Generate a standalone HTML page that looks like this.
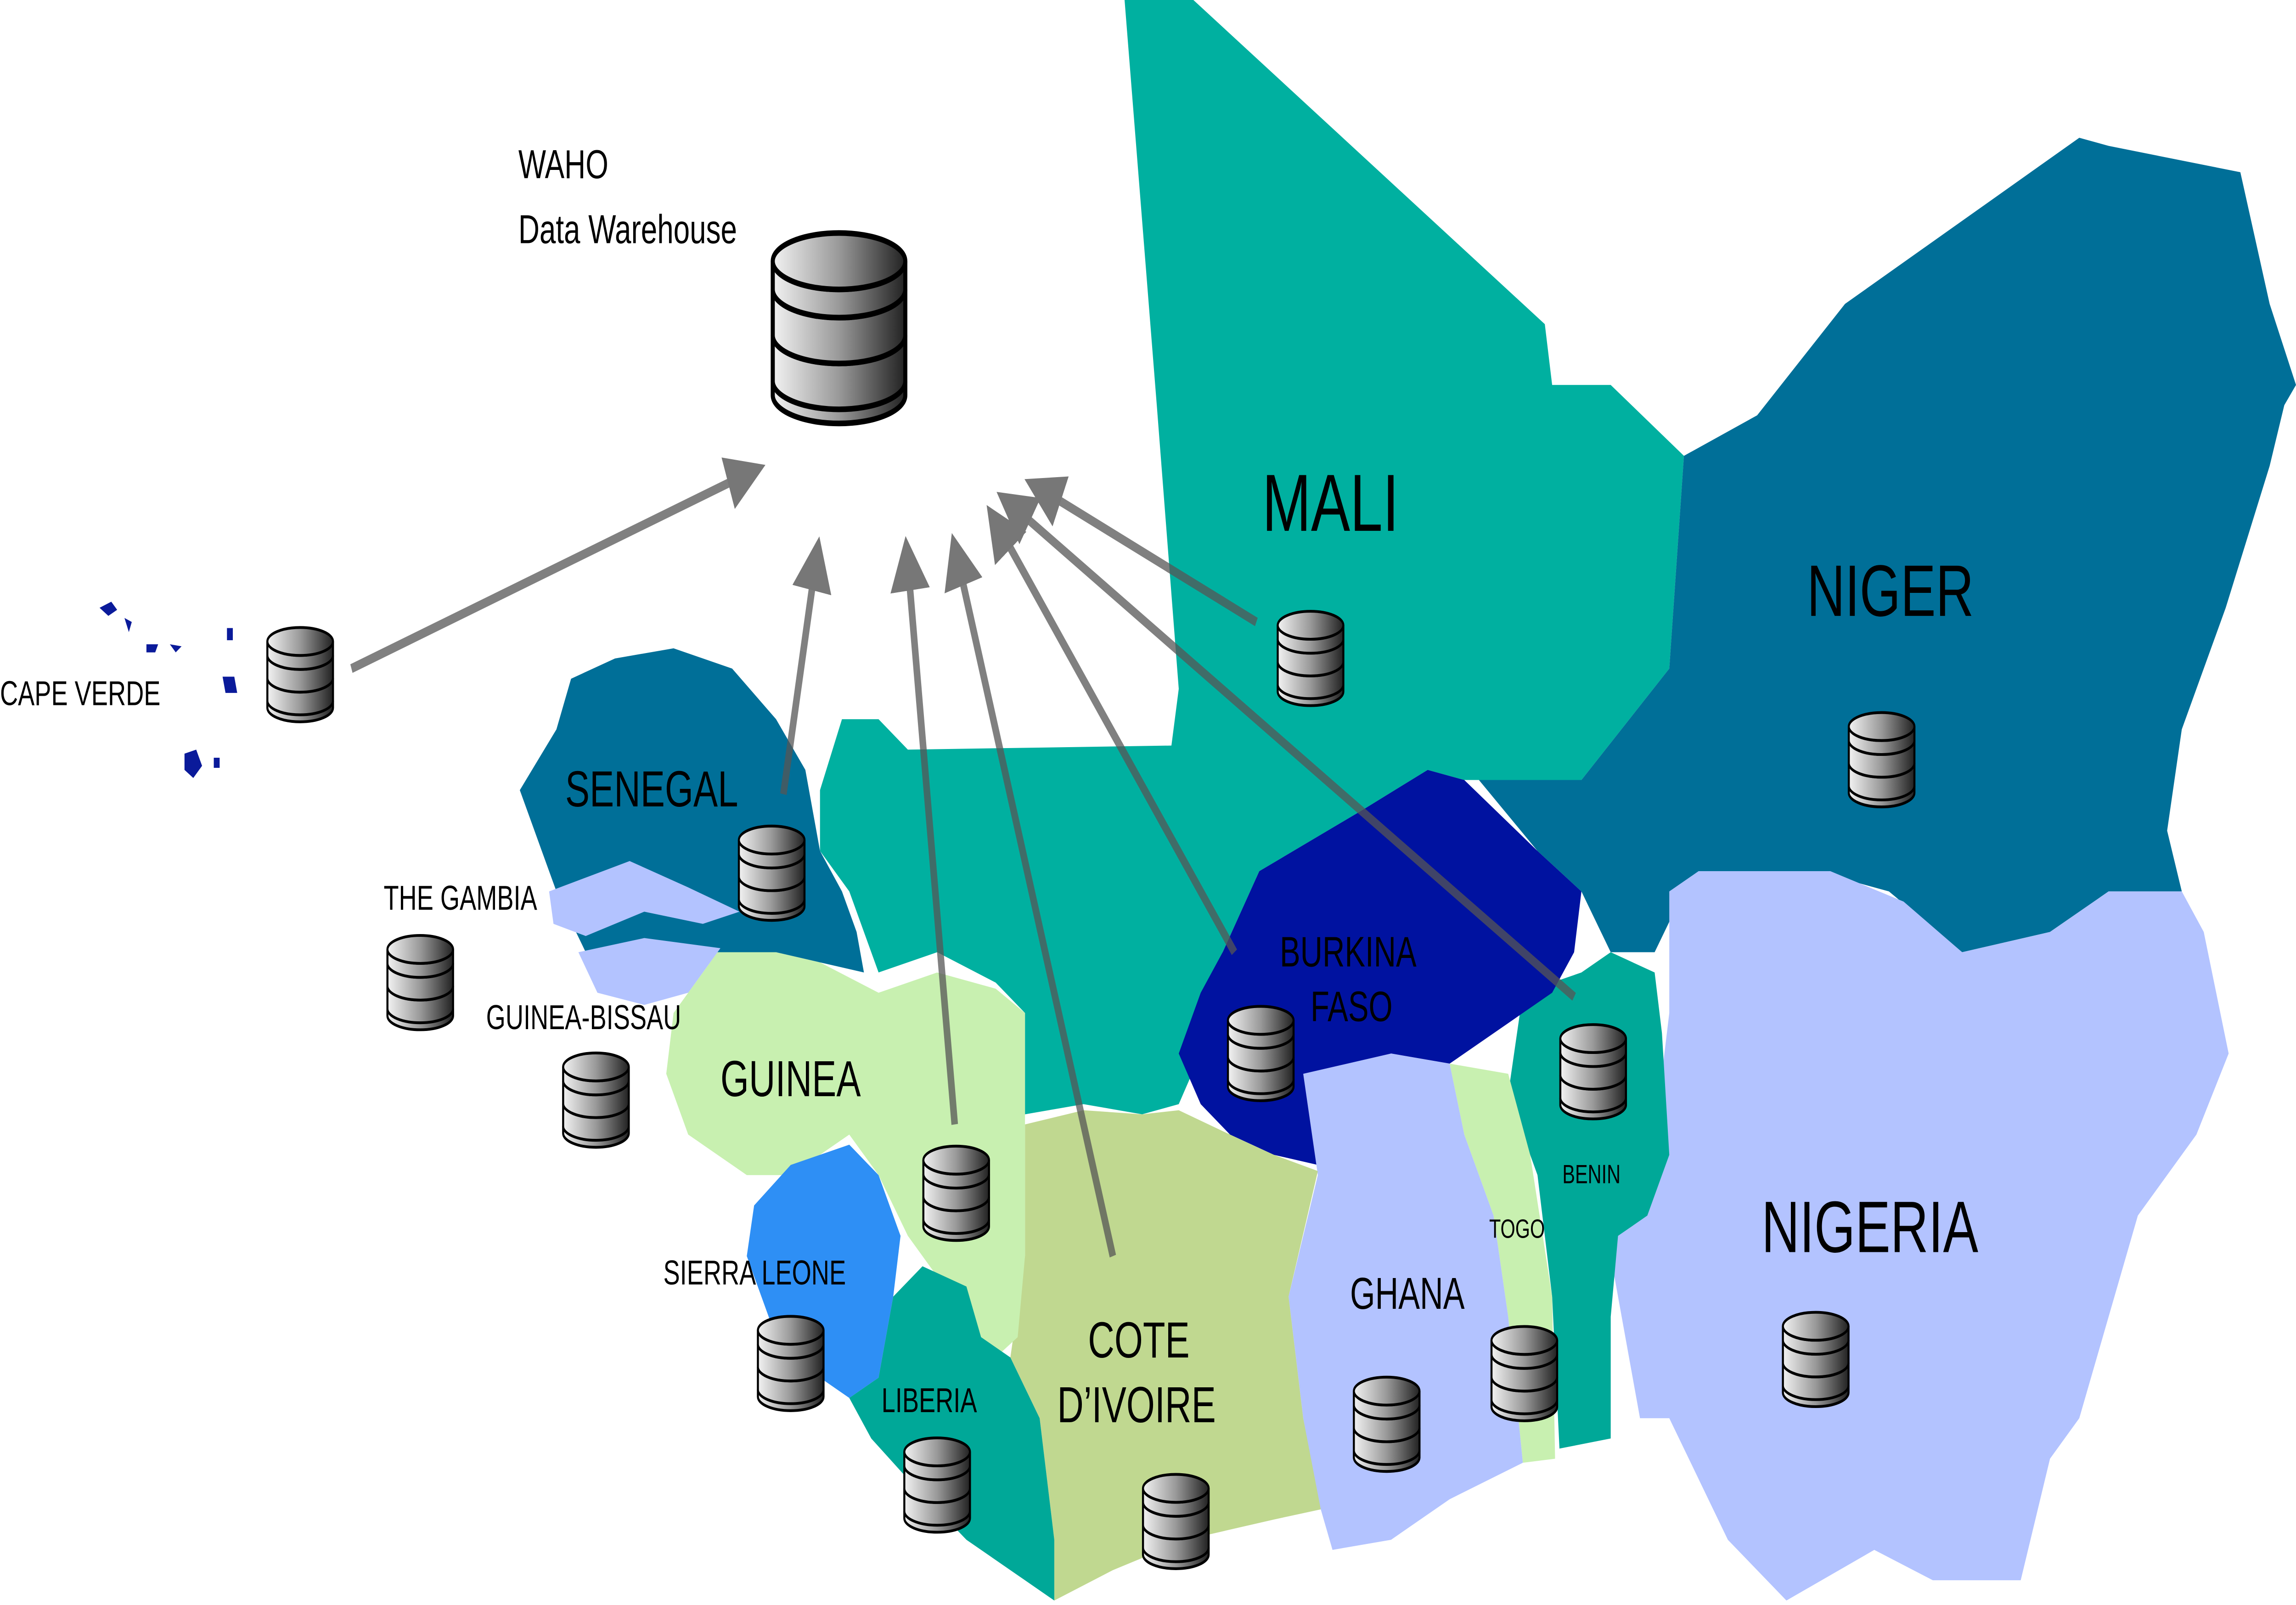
<!DOCTYPE html>
<html><head><meta charset="utf-8"><style>
html,body{margin:0;padding:0;background:#fff;width:100vw;height:100vh;overflow:hidden;}
svg{display:block;position:absolute;left:0;top:0;width:100vw;height:100vh;}
text{font-family:"Liberation Sans",sans-serif;fill:#000;}
</style></head><body>
<svg viewBox="0 0 1568 792.2" preserveAspectRatio="none" xmlns="http://www.w3.org/2000/svg">
<defs>
<linearGradient id="g" x1="0" x2="1" y1="0" y2="0">
<stop offset="0" stop-color="#f2f2f2"/><stop offset="0.5" stop-color="#999"/><stop offset="1" stop-color="#222"/>
</linearGradient>
<symbol id="cyl" viewBox="0 0 54 58">
<g stroke="#000" stroke-width="1.6" fill="url(#g)">
<path d="M1,44 v4 a26,8 0 0 0 52,0 v-4"/>
<path d="M1,44 a26,8 0 0 0 52,0 v-13 a26,8 0 0 1 -52,0 z"/>
<path d="M1,31 a26,8 0 0 0 52,0 v-13 a26,8 0 0 1 -52,0 z"/>
<path d="M1,18 a26,8 0 0 0 52,0 v-8 a26,8 0 0 1 -52,0 z"/>
<ellipse cx="27" cy="10" rx="26" ry="8"/>
</g>
</symbol>
<marker id="ah" markerWidth="6" markerHeight="6" refX="3" refY="3" orient="auto" markerUnits="strokeWidth">
<path d="M0,0 L6,3 L0,6 z" fill="#777"/>
</marker>
</defs>

<path fill="#00B0A0" d="M768,0 L815,0 L1055,160 L1060,190 L1100,190 L1150,225 L1140,330 L1080,385 L1000,385 L975,380 L930,400 L860,430 L835,470 L820,520 L805,545 L780,550 L740,545 L700,550 L700,500 L680,485 L640,470 L600,480 L590,460 L580,440 L560,420 L560,390 L575,355 L600,355 L620,370 L800,368 L805,340 L790,200 Z"/>
<path fill="#006F98" d="M1150,225 L1200,205 L1260,150 L1420,68 L1440,72 L1530,85 L1550,150 L1568,190 L1560,200 L1550,230 L1520,300 L1490,360 L1480,410 L1490,440 L1440,440 L1400,460 L1340,470 L1290,440 L1240,430 L1150,440 L1130,470 L1100,470 L1080,440 L1050,420 L1010,385 L1080,385 L1140,330 Z"/>
<path fill="#B3C3FF" d="M1140,440 L1160,430 L1250,430 L1300,445 L1340,470 L1400,460 L1440,440 L1490,440 L1505,460 L1522,520 L1500,560 L1460,600 L1440,650 L1420,700 L1400,720 L1380,780 L1320,780 L1280,765 L1220,790 L1180,760 L1160,730 L1140,700 L1120,700 L1100,620 L1110,590 L1130,560 L1140,500 Z"/>
<path fill="#00A898" d="M1040,490 L1080,480 L1100,470 L1130,480 L1135,510 L1140,570 L1125,600 L1105,610 L1100,650 L1100,710 L1065,715 L1060,640 L1050,580 L1030,540 Z"/>
<path fill="#C8F0B0" d="M990,525 L1030,530 L1045,570 L1060,640 L1062,720 L1040,722 L1030,650 L1020,600 L1000,560 Z"/>
<path fill="#0012A0" d="M835,470 L860,430 L930,400 L975,380 L1000,385 L1050,420 L1080,440 L1075,470 L1060,490 L1030,505 L990,525 L950,520 L900,535 L900,575 L870,570 L840,560 L820,545 L805,520 L820,490 Z"/>
<path fill="#B3C3FF" d="M890,530 L950,520 L990,525 L1000,560 L1020,600 L1030,650 L1040,722 L990,740 L950,760 L910,765 L900,740 L890,700 L880,640 L900,580 Z"/>
<path fill="#C0D890" d="M700,555 L740,548 L780,550 L805,548 L840,560 L870,570 L900,578 L880,640 L890,700 L902,745 L870,750 L810,760 L760,775 L720,790 L720,760 L710,700 L690,670 L700,620 Z"/>
<path fill="#C8F0B0" d="M490,470 L530,470 L560,475 L600,490 L640,480 L680,488 L700,500 L700,550 L700,620 L695,660 L680,670 L660,660 L640,630 L620,610 L600,580 L580,560 L540,580 L510,580 L490,570 L470,560 L455,530 L460,500 Z"/>
<path fill="#2E8FF5" d="M540,575 L580,565 L600,580 L615,610 L610,640 L600,680 L580,690 L560,680 L530,660 L510,620 L515,595 Z"/>
<path fill="#00A898" d="M600,680 L610,640 L630,625 L660,635 L670,660 L690,670 L710,700 L720,760 L720,790 L700,780 L660,760 L620,730 L595,710 L580,690 Z"/>
<path fill="#006F98" d="M355,390 L380,360 L390,335 L420,325 L460,320 L500,330 L530,355 L550,380 L560,420 L575,440 L585,460 L590,480 L560,475 L530,470 L490,470 L450,475 L420,480 L400,470 L390,455 L380,440 L370,420 Z"/>
<path fill="#B3C3FF" d="M375,440 L430,425 L470,438 L505,450 L480,456 L440,450 L400,462 L378,456 Z"/>
<path fill="#B3C3FF" d="M395,470 L440,463 L492,468 L470,490 L440,496 L408,490 Z"/>
<g fill="#0A1A9A">
<path d="M68,300 l8,-3 l4,4 l-6,3z"/><path d="M85,305 l5,2 l-2,5z"/><path d="M100,318 l8,0 l-2,4 l-6,0z"/>
<path d="M116,318 l8,1 l-4,3z"/><path d="M155,310 l4,0 l0,6 l-4,0z"/><path d="M152,334 l8,0 l2,8 l-8,0z"/>
<path d="M126,372 l8,-2 l4,8 l-6,6 l-6,-4z"/><path d="M146,374 l4,0 l0,5 l-4,0z"/>
</g>

<g stroke="#555" stroke-opacity="0.75" stroke-width="4.5" fill="none" marker-end="url(#ah)">
<line x1="240" y1="330" x2="510" y2="234"/>
<line x1="535" y1="392" x2="557" y2="278"/>
<line x1="652" y1="555" x2="620" y2="278"/>
<line x1="760" y1="620" x2="654" y2="276"/>
<line x1="843" y1="470" x2="682" y2="260"/>
<line x1="1075" y1="492" x2="692" y2="250"/>
<line x1="858" y1="307" x2="712" y2="242"/>
</g>

<use href="#cyl" x="526" y="92" width="94" height="140"/>
<use href="#cyl" x="178" y="308" width="54" height="50"/>
<use href="#cyl" x="500" y="406" width="54" height="50"/>
<use href="#cyl" x="260" y="460" width="54" height="50"/>
<use href="#cyl" x="380" y="518" width="54" height="50"/>
<use href="#cyl" x="626" y="564" width="54" height="50"/>
<use href="#cyl" x="513" y="648" width="54" height="50"/>
<use href="#cyl" x="613" y="708" width="54" height="50"/>
<use href="#cyl" x="776" y="726" width="54" height="50"/>
<use href="#cyl" x="868" y="300" width="54" height="50"/>
<use href="#cyl" x="834" y="495" width="54" height="50"/>
<use href="#cyl" x="920" y="678" width="54" height="50"/>
<use href="#cyl" x="1014" y="653" width="54" height="50"/>
<use href="#cyl" x="1061" y="504" width="54" height="50"/>
<use href="#cyl" x="1258" y="350" width="54" height="50"/>
<use href="#cyl" x="1213" y="646" width="54" height="50"/>

<text x="354" y="88" font-size="20">WAHO</text>
<text x="354" y="120" font-size="20">Data Warehouse</text>
<text x="0" y="348" font-size="17">CAPE VERDE</text>
<text x="386" y="398" font-size="25">SENEGAL</text>
<text x="262" y="449" font-size="17">THE GAMBIA</text>
<text x="332" y="508" font-size="17">GUINEA-BISSAU</text>
<text x="492" y="541" font-size="25">GUINEA</text>
<text x="453" y="634" font-size="17">SIERRA LEONE</text>
<text x="602" y="697" font-size="17">LIBERIA</text>
<text x="743" y="670" font-size="25">COTE</text>
<text x="722" y="702" font-size="25">D’IVOIRE</text>
<text x="862" y="262" font-size="40">MALI</text>
<text x="874" y="477" font-size="21">BURKINA</text>
<text x="895" y="504" font-size="21">FASO</text>
<text x="922" y="646" font-size="22">GHANA</text>
<text x="1017" y="611" font-size="13">TOGO</text>
<text x="1067" y="584" font-size="13">BENIN</text>
<text x="1234" y="304" font-size="36">NIGER</text>
<text x="1203" y="618" font-size="36">NIGERIA</text>
</svg>
</body></html>
